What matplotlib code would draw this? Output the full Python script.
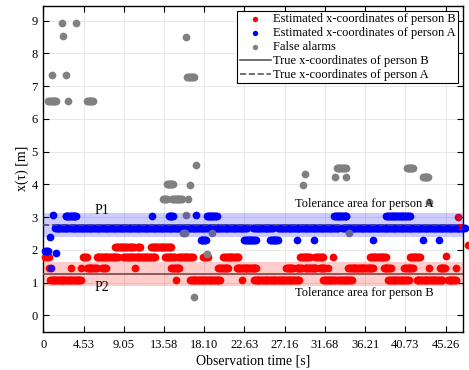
import numpy as np
import matplotlib
matplotlib.use('Agg')
import matplotlib.pyplot as plt

plt.rcParams['font.family'] = ['Liberation Serif', 'DejaVu Serif']

# Data: runs of detections (start [s], end [s], x [m])
# a run is sampled every 0.1 s, a single dot has start == end
step = 0.1

red_start = [0.2, 0.6, 0.75, 3.15, 4.2, 4.9, 6.6, 4.5, 6.0, 8.1, 9.7, 10.6, 9.0, 10.35,
             12.1, 13.7, 15.2, 14.4, 14.95, 16.5, 18.0, 19.7, 20.25, 21.75, 22.3, 23.7,
             27.3, 28.5, 29.4, 31.1, 32.0, 28.9, 30.6, 32.6, 31.5, 33.2, 34.3, 36.75,
             38.3, 38.8, 40.6, 41.25, 42.0, 43.35, 44.6, 45.35, 45.5, 46.4, 46.6, 47.8]
red_end = [0.6, 0.6, 4.3, 3.15, 4.2, 6.0, 7.0, 4.95, 8.4, 9.5, 10.2, 10.9, 12.6, 10.35,
           14.4, 14.8, 16.8, 15.3, 14.95, 19.9, 18.5, 20.8, 22.0, 24.0, 22.3, 28.8,
           28.1, 29.1, 30.7, 31.7, 32.0, 30.0, 31.5, 32.6, 32.9, 34.7, 37.1, 38.6,
           39.1, 41.1, 41.6, 42.4, 44.9, 43.35, 45.2, 45.35, 46.4, 46.4, 46.6, 47.8]
red_x = [1.78, 1.44, 1.07, 1.44, 1.44, 1.44, 1.44, 1.78, 1.78, 2.1, 2.1, 2.1, 1.78, 1.44,
         2.1, 1.78, 1.78, 1.44, 1.07, 1.07, 1.78, 1.44, 1.78, 1.44, 1.07, 1.07,
         1.44, 1.44, 1.44, 1.44, 1.44, 1.78, 1.78, 1.78, 1.07, 1.07, 1.44, 1.78,
         1.44, 1.07, 1.44, 1.78, 1.07, 1.44, 1.44, 1.82, 1.07, 1.45, 3.01, 2.15]

blue_start = [0.2, 0.75, 0.87, 1.1, 1.4, 1.3, 3.0, 23.6, 26.4, 33.6, 2.5, 12.25, 14.1,
              17.2, 18.4, 32.7, 38.6, 17.7, 22.6, 25.5, 28.5, 30.5, 37.05, 42.7, 44.5]
blue_end = [0.5, 0.75, 0.87, 1.1, 1.4, 2.8, 22.9, 25.8, 33.2, 47.4, 3.7, 12.25, 14.6,
            17.2, 19.5, 34.1, 41.2, 18.3, 23.9, 26.4, 28.5, 30.5, 37.05, 42.7, 44.5]
blue_x = [1.96, 2.38, 1.44, 3.05, 1.9, 2.68, 2.68, 2.68, 2.68, 2.68, 3.03, 3.03, 3.03,
          3.05, 3.03, 3.03, 3.03, 2.3, 2.3, 2.3, 2.3, 2.3, 2.3, 2.3, 2.3]

gray_start = [0.55, 0.95, 2.07, 2.25, 2.52, 2.74, 3.64, 4.9, 16.05, 16.2, 17.18, 13.9,
              16.5, 13.5, 14.5, 16.25, 15.7, 16.0, 19.0, 18.4, 17.0, 29.2, 29.4, 33.0,
              32.85, 34.1, 34.4, 40.9, 42.7, 43.4]
gray_end = [1.5, 0.95, 2.07, 2.25, 2.52, 2.74, 3.64, 5.6, 16.05, 16.9, 17.18, 14.6,
            16.5, 13.9, 15.6, 16.25, 15.9, 16.0, 19.0, 18.4, 17.0, 29.2, 29.4, 34.0,
            32.85, 34.1, 34.4, 41.6, 43.3, 43.4]
gray_x = [6.54, 7.33, 8.93, 8.53, 7.33, 6.54, 8.93, 6.54, 8.5, 7.27, 4.58, 4.0,
          3.97, 3.55, 3.55, 3.55, 2.5, 3.05, 2.5, 1.87, 0.57, 3.97, 4.33, 4.5,
          4.21, 4.21, 2.5, 4.5, 4.21, 3.46]

true_a = 2.76
true_b = 1.26
tol = 0.36

xtick_pos = [0, 4.526, 9.052, 13.578, 18.104, 22.63, 27.156, 31.682, 36.208, 40.734, 45.26]
xtick_labels = ['0', '4.53', '9.05', '13.58', '18.10', '22.63', '27.16', '31.68',
                '36.21', '40.73', '45.26']


def expand(starts, ends, vals):
    t, x = [], []
    for s, e, v in zip(starts, ends, vals):
        ts = np.arange(s, e + 1e-6, step)
        t.extend(ts)
        x.extend([v] * len(ts))
    return np.array(t), np.array(x)


fig = plt.figure(figsize=(4.69, 3.70), dpi=100)
ax = fig.add_axes([0.0923, 0.1035, 0.8947, 0.8805])

ms = 31
t, x = expand(red_start, red_end, red_x)
ax.scatter(t, x, s=ms, c='red', lw=0, clip_on=False, zorder=3,
           label='Estimated x-coordinates of person B')
t, x = expand(blue_start, blue_end, blue_x)
ax.scatter(t, x, s=ms, c='blue', lw=0, clip_on=False, zorder=3,
           label='Estimated x-coordinates of person A')
t, x = expand(gray_start, gray_end, gray_x)
ax.scatter(t, x, s=ms, c='gray', lw=0, clip_on=False, zorder=3,
           label='False alarms')

ax.axhline(true_b, color='0.35', lw=1.2, zorder=4, label='True x-coordinates of person B')
ax.axhline(true_a, color='0.35', lw=1.2, ls='--', zorder=4,
           label='True x-coordinates of person A')

# tolerance areas, drawn over the dots
ax.axhspan(true_a - tol, true_a + tol, color='blue', alpha=0.2, lw=0, zorder=5)
ax.axhspan(true_b - tol, true_b + tol, color='red', alpha=0.2, lw=0, zorder=5)

ax.errorbar(46.85, 2.72, yerr=0.07, color='red', capsize=1.5, lw=0.8, capthick=0.8, zorder=6)

ax.text(5.8, 3.2, 'P1', fontsize=10, va='center', zorder=6)
ax.text(5.8, 0.86, 'P2', fontsize=10, va='center', zorder=6)
ax.text(28.3, 3.4, 'Tolerance area for person A', fontsize=9, va='center', zorder=6)
ax.text(28.3, 0.69, 'Tolerance area for person B', fontsize=9, va='center', zorder=6)

ax.set_xlim(0, 47.2)
ax.set_ylim(-0.5, 9.45)
ax.set_xticks(xtick_pos)
ax.set_xticklabels(xtick_labels)
ax.set_yticks(range(10))
ax.tick_params(direction='in', top=True, right=True, length=4, width=0.8,
               labelsize=9, pad=4)
ax.tick_params(axis='x', pad=5.5)
ax.grid(True, color='#e4e4e4', lw=0.6)
ax.set_axisbelow(True)
for sp in ax.spines.values():
    sp.set_linewidth(1.0)

ax.set_xlabel('Observation time [s]', fontsize=10, labelpad=2)
ax.set_ylabel('x(τ) [m]', fontsize=10, labelpad=2)

leg = ax.legend(loc='upper right', fontsize=9, fancybox=False, framealpha=1,
                edgecolor='black', borderaxespad=0.4, handlelength=2.5,
                handletextpad=0.15, labelspacing=0.15, borderpad=0.2, markerscale=0.7)
leg.get_frame().set_linewidth(0.8)
leg.set_zorder(10)

plt.savefig('out.png', dpi=100)
